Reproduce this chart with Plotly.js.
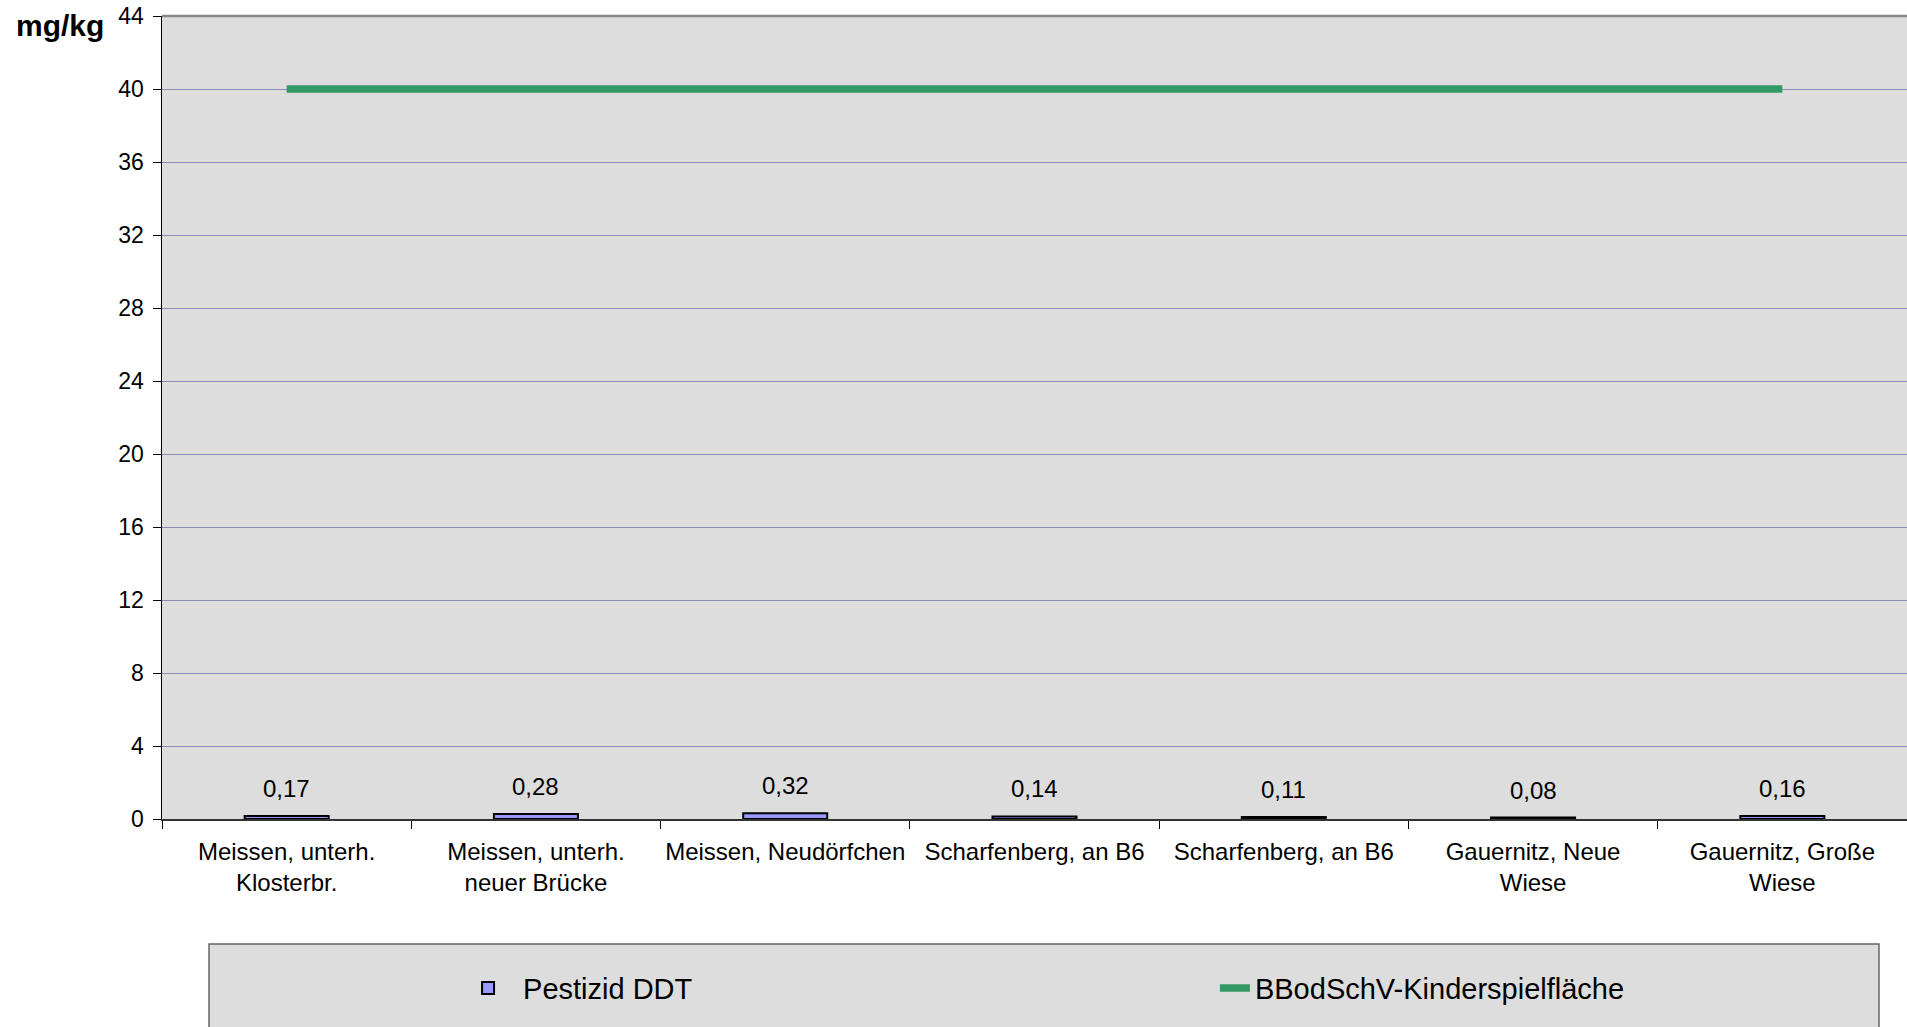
<!DOCTYPE html>
<html><head><meta charset="utf-8">
<script src="https://cdn.plot.ly/plotly-3.0.1.min.js"></script>
<style>html,body{margin:0;padding:0;background:#fff;overflow:hidden}#chart{width:1907px;height:1027px}</style>
</head><body><div id="chart"></div>
<script>
// ---- data ----
const categories = ["Meissen, unterh.<br>Klosterbr.", "Meissen, unterh.<br>neuer Brücke", "Meissen, Neudörfchen", "Scharfenberg, an B6", "Scharfenberg, an B6", "Gauernitz, Neue<br>Wiese", "Gauernitz, Große<br>Wiese"];
const ddtValues = [0.17, 0.28, 0.32, 0.14, 0.11, 0.08, 0.16];
const limitValues = [40, 40, 40, 40, 40, 40, 40];
const seriesNames = ["Pestizid DDT", "BBodSchV-Kinderspielfläche"];
const yUnit = "mg/kg";

// ---- chart ----
const idx = categories.map((c, i) => i);
const FONT = "Liberation Sans, Arial, sans-serif";

const traces = [
  {
    type: "bar", name: seriesNames[0], x: idx, y: ddtValues, width: 0.337,
    marker: {color: "#9999ff", line: {color: "#000", width: 2}},
    hoverinfo: "skip", legend: "legend"
  },
  {
    type: "scatter", mode: "lines", name: seriesNames[1], x: idx, y: limitValues,
    line: {color: "#339966", width: 7.5}, hoverinfo: "skip", legend: "legend2"
  }
];

const labelAnnotations = ddtValues.map((v, i) => ({
  x: idx[i], y: v, xref: "x", yref: "y", text: v.toFixed(2).replace(".", ","),
  showarrow: false, yanchor: "bottom", yshift: 12,
  font: {family: FONT, size: 24, color: "#000"}
}));

const legendFont = {family: FONT, size: 29, color: "#000"};

const layout = {
  width: 1907, height: 1027,
  margin: {l: 162, r: 0, t: 16, b: 208, pad: 0},
  paper_bgcolor: "#ffffff", plot_bgcolor: "#dddddd",
  font: {family: FONT, color: "#000"},
  showlegend: true,
  bargap: 0,
  xaxis: {
    range: [-0.5, categories.length - 0.5],
    tickmode: "array", tickvals: idx, ticktext: categories, tickangle: 0,
    ticks: "", showgrid: false, zeroline: false,
    showline: true, linecolor: "#333", linewidth: 2,
    tickfont: {family: FONT, size: 24, color: "#000"},
    ticklabelstandoff: 10,
    minor: {tickmode: "linear", tick0: -0.5, dtick: 1, ticks: "outside", ticklen: 8, tickwidth: 1, tickcolor: "#000", showgrid: false},
    fixedrange: true
  },
  yaxis: {
    range: [0, 44], tick0: 0, dtick: 4,
    showgrid: true, gridcolor: "#8c8cb8", gridwidth: 1,
    zeroline: false, showline: true, linecolor: "#000", linewidth: 1.5,
    ticks: "outside", ticklen: 8, tickcolor: "#000", tickwidth: 1,
    tickfont: {family: FONT, size: 23, color: "#000"},
    ticklabelstandoff: 4,
    fixedrange: true
  },
  legend: {
    orientation: "h", x: 0.1668, xanchor: "left", y: -0.2105, yanchor: "middle",
    bgcolor: "rgba(0,0,0,0)", borderwidth: 0, font: legendFont, itemwidth: 60
  },
  legend2: {
    orientation: "h", x: 0.6034, xanchor: "left", y: -0.2105, yanchor: "middle",
    bgcolor: "rgba(0,0,0,0)", borderwidth: 0, font: legendFont, itemwidth: 30
  },
  shapes: [
    {type: "line", xref: "paper", yref: "paper", x0: 0, x1: 1, y0: 1, y1: 1,
     line: {color: "#888888", width: 2.5}},
    {type: "rect", xref: "paper", yref: "paper", x0: 0.02693, x1: 0.98395, y0: -0.15567, y1: -0.30,
     fillcolor: "#dddddd", line: {color: "#666666", width: 1.5}, layer: "below"}
  ],
  annotations: labelAnnotations.concat([
    {xref: "paper", yref: "paper", x: 0, y: 1, xanchor: "left", yanchor: "top",
     xshift: -148, yshift: 9, showarrow: false, text: "<b>" + yUnit + "</b>",
     font: {family: FONT, size: 30, color: "#000"}}
  ])
};

Plotly.newPlot("chart", traces, layout, {displayModeBar: false, staticPlot: true});
</script>
</body></html>
